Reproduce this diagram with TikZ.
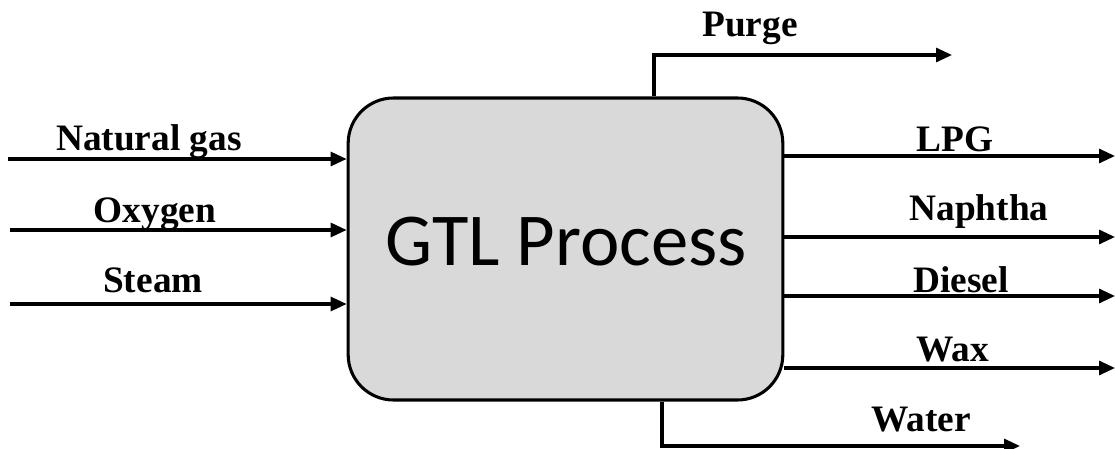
\documentclass[tikz,border=0pt]{standalone}
\usepackage{fontspec}
\setmainfont{Liberation Serif}
\newfontfamily\calibrifont{Carlito}
\usetikzlibrary{arrows.meta}
\definecolor{boxgray}{HTML}{D9D9D9}
\tikzset{
  flow/.style={line width=2.3pt,-{Triangle[length=12pt,width=10.5pt]}},
  streamlabel/.style={anchor=base,inner sep=0pt,font=\bfseries\fontsize{28}{32}\selectfont},
  processbox/.style={draw,line width=2.3pt,fill=boxgray,rounded corners=34pt,
    minimum width=326pt,minimum height=226.5pt,inner sep=0pt}
}
\begin{document}
\begin{tikzpicture}[x=0.75pt,y=-0.75pt]
\useasboundingbox (0,0) rectangle (1115,449);

% central process block
\node[processbox] (gtl) at (565.5,249) {};
\node[anchor=base,inner sep=0pt,font=\calibrifont\fontsize{56}{60}\selectfont] (gtltext) at (566,266) {GTL Process};

% feed streams
\coordinate (ngin) at (8,159);
\coordinate (oxin) at (10,230);
\coordinate (stin) at (10,304);
\draw[flow] (ngin) -- (ngin -| gtl.west);
\draw[flow] (oxin) -- (oxin -| gtl.west);
\draw[flow] (stin) -- (stin -| gtl.west);
\node[streamlabel] (nglab) at (149,151) {Natural gas};
\node[streamlabel] (oxlab) at (155,223) {Oxygen};
\node[streamlabel] (stlab) at (153,293) {Steam};

% product streams
\coordinate (lpgout) at (1115,156);
\coordinate (napout) at (1115,237);
\coordinate (dieout) at (1115,296);
\coordinate (waxout) at (1115,368);
\draw[flow] (lpgout -| gtl.east) -- (lpgout);
\draw[flow] (napout -| gtl.east) -- (napout);
\draw[flow] (dieout -| gtl.east) -- (dieout);
\draw[flow] (waxout -| gtl.east) -- (waxout);
\node[streamlabel] (lpglab) at (955,152) {LPG};
\node[streamlabel] (naplab) at (979,221) {Naphtha};
\node[streamlabel] (dielab) at (961,293) {Diesel};
\node[streamlabel] (waxlab) at (953,361) {Wax};

% purge from the top
\coordinate (purgeup) at (654,55);
\coordinate (purgeout) at (952,55);
\draw[flow] (gtl.north -| purgeup) -- (purgeup) -- (purgeout);
\node[streamlabel] (purgelab) at (750,37) {Purge};

% water from the bottom
\coordinate (waterdown) at (662,446);
\coordinate (waterout) at (1020,446);
\draw[flow] (gtl.south -| waterdown) -- (waterdown) -- (waterout);
\node[streamlabel] (waterlab) at (921,431) {Water};
\end{tikzpicture}
\end{document}
